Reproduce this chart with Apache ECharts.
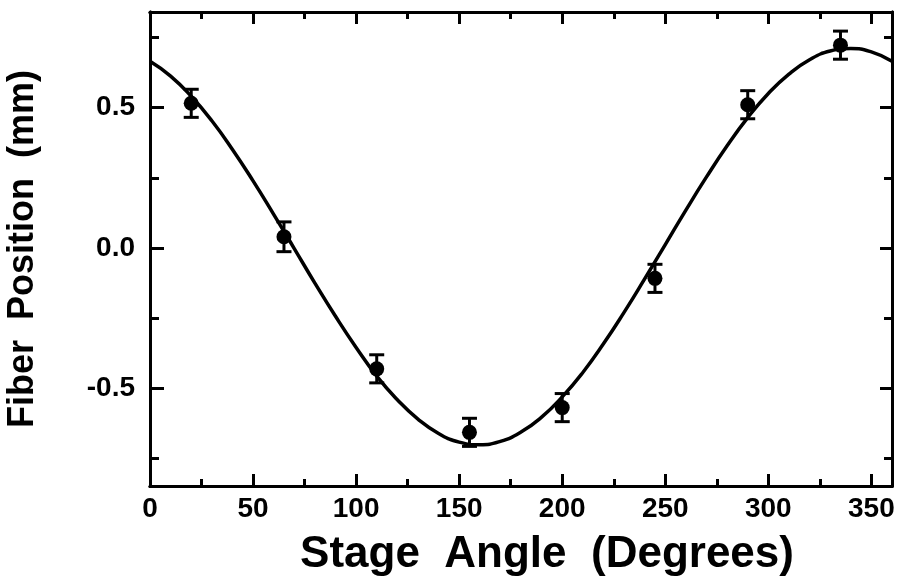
<!DOCTYPE html>
<html>
<head>
<meta charset="utf-8">
<script src="https://cdn.jsdelivr.net/npm/echarts@6/dist/echarts.min.js"></script>
<style>
  html, body { margin: 0; padding: 0; background: #fff; }
  #chart { width: 897px; height: 580px; }
</style>
</head>
<body>
<div id="chart"></div>
<script>
// Measured fiber positions (mm) at each stage angle (degrees), with error bars
const stageAngles = [20, 65, 110, 155, 200, 245, 290, 335];
const fiberPositions = [0.515, 0.04, -0.43, -0.656, -0.568, -0.108, 0.51, 0.722];
const positionErrors = [0.05, 0.053, 0.05, 0.05, 0.05, 0.05, 0.05, 0.05];

// Fitted sinusoid, sampled every 10 degrees
const fitAngles = [0, 10, 20, 30, 40, 50, 60, 70, 80, 90, 100, 110, 120, 130, 140, 150, 160, 170, 180,
  190, 200, 210, 220, 230, 240, 250, 260, 270, 280, 290, 300, 310, 320, 330, 340, 350, 360];
const fitPositions = [0.665, 0.612, 0.540, 0.453, 0.351, 0.239, 0.120, -0.002, -0.125, -0.243, -0.354,
  -0.456, -0.540, -0.609, -0.660, -0.691, -0.700, -0.688, -0.655, -0.602, -0.530, -0.443, -0.341,
  -0.229, -0.110, 0.012, 0.135, 0.253, 0.364, 0.464, 0.550, 0.619, 0.670, 0.701, 0.710, 0.698, 0.665];

// Tick positions
const xMajorTicks = [0, 50, 100, 150, 200, 250, 300, 350];
const xMinorTicks = [25, 75, 125, 175, 225, 275, 325];
const yMajorTicks = [-0.5, 0, 0.5];
const yMinorTicks = [-0.75, -0.25, 0.25, 0.75];

const FONT = '"Liberation Sans", Arial, sans-serif';
const INK = '#000';

function xAxisDef(position, ticks, len, withLabels) {
  return {
    type: 'value', gridIndex: 0, position: position, min: 0, max: 360,
    axisLine: { show: true, onZero: false, lineStyle: { color: INK, width: 3 } },
    axisTick: { show: true, inside: true, length: len, customValues: ticks, lineStyle: { color: INK, width: 3 } },
    axisLabel: withLabels ? {
      show: true, customValues: ticks, margin: 9, color: INK,
      fontFamily: FONT, fontSize: 28, fontWeight: 'bold'
    } : { show: false },
    splitLine: { show: false }
  };
}

function yAxisDef(position, ticks, len, withLabels) {
  return {
    type: 'value', gridIndex: 0, position: position, min: -0.847, max: 0.84,
    axisLine: { show: true, onZero: false, lineStyle: { color: INK, width: 3 } },
    axisTick: { show: true, inside: true, length: len, customValues: ticks, lineStyle: { color: INK, width: 3 } },
    axisLabel: withLabels ? {
      show: true, customValues: ticks, margin: 15, color: INK,
      fontFamily: FONT, fontSize: 28, fontWeight: 'bold',
      formatter: function (v) { return v.toFixed(1); }
    } : { show: false },
    splitLine: { show: false }
  };
}

const xBottom = xAxisDef('bottom', xMajorTicks, 12, true);
xBottom.name = 'Stage  Angle  (Degrees)';
xBottom.nameLocation = 'middle';
xBottom.nameGap = 47;
xBottom.nameTextStyle = { color: INK, fontFamily: FONT, fontSize: 44, fontWeight: 'bold', padding: [0, 0, 0, 52] };

const yLeft = yAxisDef('left', yMajorTicks, 14, true);
yLeft.name = 'Fiber  Position  (mm)';
yLeft.nameLocation = 'middle';
yLeft.nameGap = 109;
yLeft.nameTextStyle = { color: INK, fontFamily: FONT, fontSize: 36, fontWeight: 'bold' };

const pointData = stageAngles.map(function (a, i) {
  return [a, fiberPositions[i], fiberPositions[i] - positionErrors[i], fiberPositions[i] + positionErrors[i]];
});
const fitData = fitAngles.map(function (a, i) { return [a, fitPositions[i]]; });

const chart = echarts.init(document.getElementById('chart'), null, { renderer: 'canvas' });
chart.setOption({
  animation: false,
  backgroundColor: '#fff',
  grid: { left: 150, right: 5, top: 12, bottom: 94, containLabel: false, outerBoundsMode: 'none' },
  xAxis: [
    xBottom,
    xAxisDef('bottom', xMinorTicks, 7, false),
    xAxisDef('top', xMajorTicks, 12, false),
    xAxisDef('top', xMinorTicks, 7, false)
  ],
  yAxis: [
    yLeft,
    yAxisDef('left', yMinorTicks, 9, false),
    yAxisDef('right', yMajorTicks, 12, false),
    yAxisDef('right', yMinorTicks, 8, false)
  ],
  series: [
    {
      type: 'line', xAxisIndex: 0, yAxisIndex: 0,
      data: fitData, smooth: true, showSymbol: false, symbol: 'none',
      lineStyle: { color: INK, width: 3.5 }, z: 2
    },
    {
      type: 'custom', xAxisIndex: 0, yAxisIndex: 0,
      data: pointData,
      encode: { x: 0, y: [1, 2, 3] },
      z: 3,
      renderItem: function (params, api) {
        const x = api.value(0);
        const c = api.coord([x, api.value(1)]);
        const lo = api.coord([x, api.value(2)]);
        const hi = api.coord([x, api.value(3)]);
        const hw = 7.5;
        const st = { stroke: INK, lineWidth: 3, fill: null };
        return {
          type: 'group',
          children: [
            { type: 'line', shape: { x1: c[0], y1: hi[1], x2: c[0], y2: lo[1] }, style: st },
            { type: 'line', shape: { x1: c[0] - hw, y1: hi[1], x2: c[0] + hw, y2: hi[1] }, style: st },
            { type: 'line', shape: { x1: c[0] - hw, y1: lo[1], x2: c[0] + hw, y2: lo[1] }, style: st },
            { type: 'circle', shape: { cx: c[0], cy: c[1], r: 7.5 }, style: { fill: INK } }
          ]
        };
      }
    }
  ]
});
</script>
</body>
</html>
